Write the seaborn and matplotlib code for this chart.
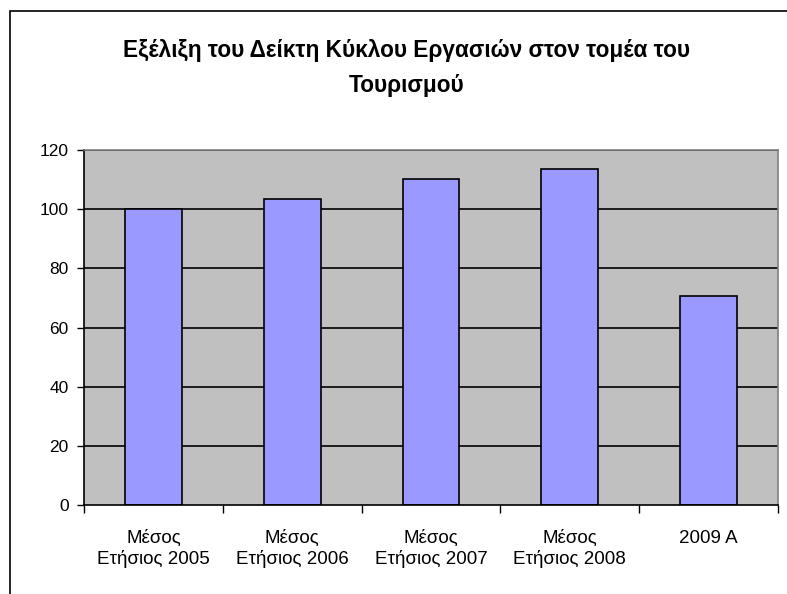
import matplotlib
matplotlib.use("Agg")
import matplotlib.pyplot as plt
import seaborn as sns
import pandas as pd
from matplotlib.patches import Rectangle

# Δεδομένα
categories = ["Μέσος\nΕτήσιος 2005", "Μέσος\nΕτήσιος 2006", "Μέσος\nΕτήσιος 2007",
              "Μέσος\nΕτήσιος 2008", "2009 Α"]
values = [100.0, 103.4, 110.1, 113.7, 70.8]
yticks = [0, 20, 40, 60, 80, 100, 120]

df = pd.DataFrame({"cat": categories, "val": values})

sns.set_style("white")
plt.rcParams["font.family"] = ["Liberation Sans", "DejaVu Sans"]
plt.rcParams["text.color"] = "black"

fig = plt.figure(figsize=(7.87, 5.94), dpi=100)
ax = fig.add_axes([84 / 787, 1 - 505 / 594, (778 - 84) / 787, (505 - 150) / 594])

ax.set_facecolor("#C0C0C0")
for y in yticks[1:]:
    ax.axhline(y, color="black", linewidth=1.2, zorder=1)

sns.barplot(data=df, x="cat", y="val", color="#9999FF", edgecolor="black",
            linewidth=1.2, width=0.41, saturation=1, ax=ax, zorder=2)

ax.set_xlim(-0.5, len(categories) - 0.5)
ax.set_ylim(0, 120)
ax.set_yticks(yticks)
ax.set_xlabel("")
ax.set_ylabel("")

# Υποδιαιρέσεις στον άξονα x στα όρια κατηγοριών
ax.set_xticks([i - 0.5 for i in range(len(categories) + 1)], minor=True)
ax.tick_params(axis="x", which="major", length=0, pad=18, labelsize=13.5, labelcolor="black")
ax.tick_params(axis="x", which="minor", length=6, width=1, color="black", direction="out")
ax.tick_params(axis="y", length=5, width=1, color="black", direction="out",
               labelsize=12.5, labelcolor="black", pad=6)
ax.tick_params(left=True, bottom=True, which="both")

ax.spines["left"].set_color("black")
ax.spines["bottom"].set_color("black")
ax.spines["top"].set_color("#808080")
ax.spines["right"].set_color("#808080")
for s in ax.spines.values():
    s.set_linewidth(1.2)

fig.text(0.516, 1 - 68 / 594, "Εξέλιξη του Δείκτη Κύκλου Εργασιών στον τομέα του\nΤουρισμού",
         ha="center", va="center", fontsize=16.3, fontweight="bold", linespacing=1.65,
         color="black")

# Πλαίσιο γραφήματος
fig.patches.append(Rectangle((10 / 787, -0.1), 1.2, 1.1 - 11 / 594,
                             transform=fig.transFigure, fill=False,
                             edgecolor="black", linewidth=1.2))

fig.savefig("out.png", dpi=100)
